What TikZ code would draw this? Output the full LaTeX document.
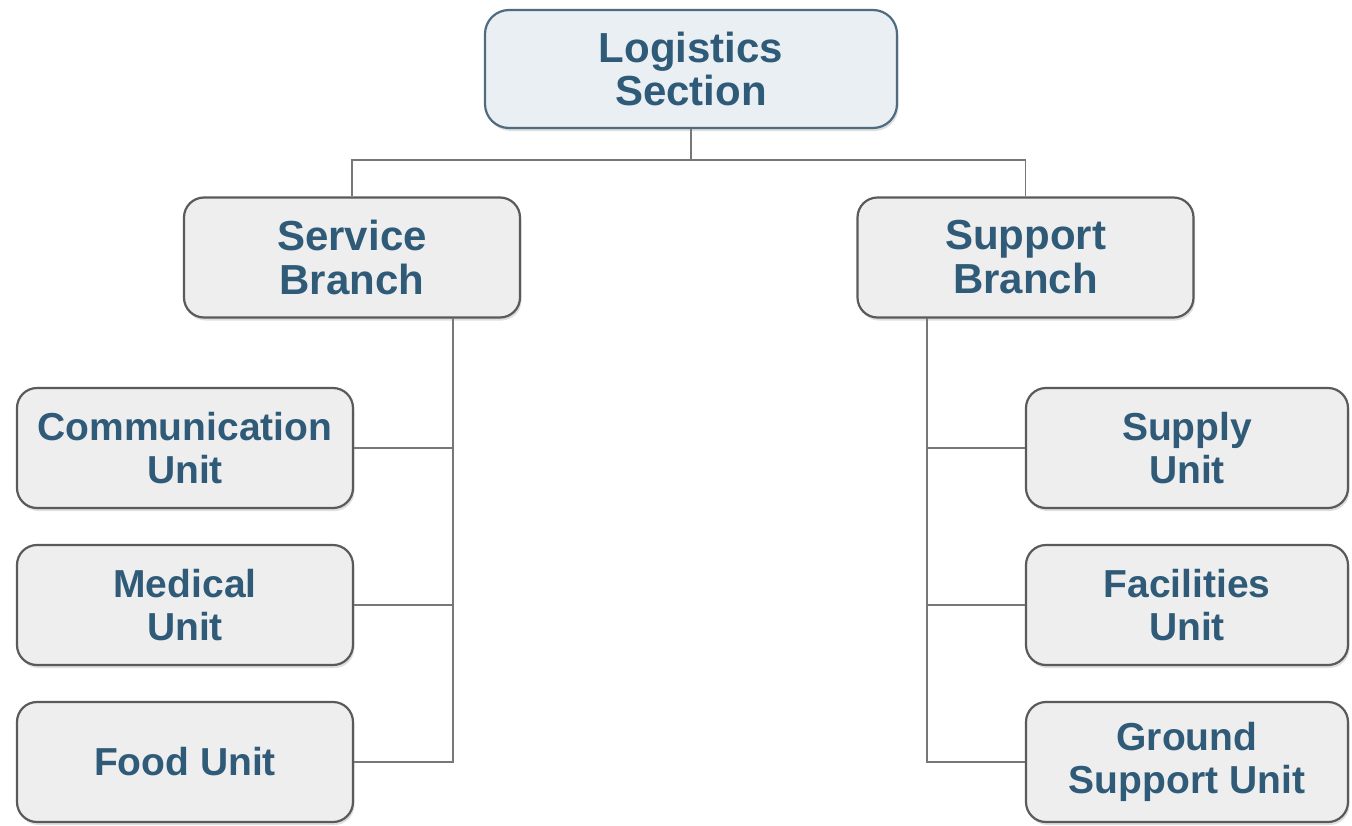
\documentclass[tikz,border=0pt]{standalone}
\usepackage{fontspec}
\setmainfont{Liberation Sans}
\usetikzlibrary{shadows,calc}
\definecolor{txt}{HTML}{2F5B78}
\definecolor{boxfill}{HTML}{EEEEEE}
\definecolor{boxdraw}{HTML}{5A5A5A}
\definecolor{topfill}{HTML}{E9EFF3}
\definecolor{topdraw}{HTML}{4E6B80}
\definecolor{wire}{HTML}{777777}
\tikzset{
  unit/.style={draw=boxdraw, line width=2.2pt, fill=boxfill, rounded corners=20pt,
    text=txt, align=center, font=\bfseries\fontsize{39}{43}\selectfont,
    inner sep=0pt, minimum width=336pt, minimum height=120pt,
    drop shadow={opacity=0.25, shadow xshift=1.5pt, shadow yshift=-3pt}},
  branch/.style={unit, font=\bfseries\fontsize{42}{44}\selectfont},
  top/.style={unit, draw=topdraw, fill=topfill, minimum width=412pt, minimum height=118pt,
    rounded corners=24pt, font=\bfseries\fontsize{42}{43}\selectfont},
  wireline/.style={draw=wire, line width=1.8pt}
}
\begin{document}
\begin{tikzpicture}[x=1pt,y=-1pt]
\useasboundingbox (0,0) rectangle (1352,825);
\node[top] (log) at (691,69) {Logistics\\Section};
\node[branch] (svc) at (352,257.5) {Service\\Branch};
\node[branch] (sup) at (1025.5,257.5) {Support\\Branch};
\node[unit] (comm) at (185,448) {Communication\\Unit};
\node[unit] (med) at (185,605) {Medical\\Unit};
\node[unit] (food) at (185,762) {Food Unit};
\node[unit, minimum width=322pt] (supply) at (1187,448) {Supply\\Unit};
\node[unit, minimum width=322pt] (fac) at (1187,605) {Facilities\\Unit};
\node[unit, minimum width=322pt] (gsu) at (1187,762) {Ground\\Support Unit};
\coordinate (bus) at (691,160);
\coordinate (sv) at (453,318);
\coordinate (su) at (927,318);
\draw[wireline] (log.south) -- (bus);
\draw[wireline] (bus) -| (svc.north);
\draw[wireline] (bus) -| (sup.north);
\draw[wireline] (sv) |- (food.east);
\draw[wireline] (sv |- comm.east) -- (comm.east);
\draw[wireline] (sv |- med.east) -- (med.east);
\draw[wireline] (su) |- (gsu.west);
\draw[wireline] (su |- supply.west) -- (supply.west);
\draw[wireline] (su |- fac.west) -- (fac.west);
\end{tikzpicture}
\end{document}
